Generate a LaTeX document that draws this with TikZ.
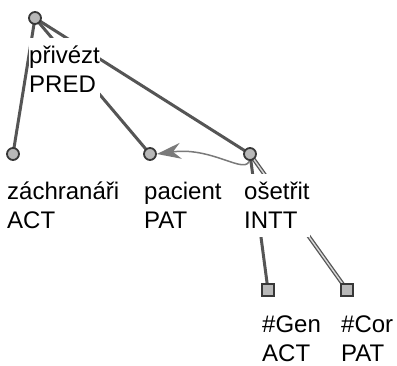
\documentclass[tikz,border=0pt]{standalone}
\usepackage{fontspec}
\setmainfont{Liberation Sans}
\usetikzlibrary{arrows.meta,backgrounds}
\definecolor{edgec}{HTML}{555555}
\definecolor{nodefill}{HTML}{B8B8B8}
\definecolor{nodeline}{HTML}{383838}
\definecolor{arrc}{HTML}{7A7A7A}
\newcommand{\twolines}[3][9pt]{\vbox{\baselineskip=29pt\lineskiplimit=-100pt\lineskip=0pt\hbox{\rule{0pt}{25pt}#2}\hbox{#3}\kern#1}}
\tikzset{
  cnode/.style={circle, draw=nodeline, fill=nodefill, line width=1.8pt, minimum size=12pt, inner sep=0pt},
  snode/.style={rectangle, draw=nodeline, fill=nodefill, line width=1.8pt, minimum size=12pt, inner sep=0pt},
  lbl/.style={anchor=north west, fill=white, inner sep=0pt, font=\fontsize{24}{29}\selectfont},
  edge/.style={draw=edgec, line width=3pt},
  dedge/.style={draw=edgec, line width=1.3pt, double=white!85!black, double distance=1.4pt},
  coref/.style={draw=arrc, line width=1.5pt, -{Stealth[length=24pt,width=16pt]}}
}
\begin{document}
\begin{tikzpicture}[x=1pt,y=-1pt]
\useasboundingbox (0,0) rectangle (397,366);
% labels
\node[lbl] (lr) at (29,38) {\twolines{přivézt}{PRED}};
\node[lbl] (la) at (7,174) {\twolines{záchranáři}{ACT}};
\node[lbl] (lp) at (144,174) {\twolines{pacient}{PAT}};
\node[lbl] (lo) at (244,174) {\twolines{ošetřit}{INTT}};
\node[lbl] (lg) at (262,307) {\twolines[0pt]{\#Gen}{ACT}};
\node[lbl] (lc) at (341,307) {\twolines[0pt]{\#Cor}{PAT}};
% nodes
\node[cnode] (r) at (35,18) {};
\node[cnode] (a) at (13,154) {};
\node[cnode] (p) at (150,154) {};
\node[cnode] (o) at (250,154) {};
\node[snode] (g) at (268,290) {};
\node[snode] (c) at (347,290) {};
% edges
\begin{pgfonlayer}{background}
\draw[edge] (r.center) -- (a.center);
\draw[edge] (r.center) -- (p.center);
\draw[edge] (r.center) -- (o.center);
\draw[edge] (o.center) -- (g.center);
\draw[dedge] (o.center) -- (c.center);
\draw[coref] (o.center) .. controls +(2,28) and +(60,-8) .. (p.east);
\end{pgfonlayer}
\end{tikzpicture}
\end{document}
